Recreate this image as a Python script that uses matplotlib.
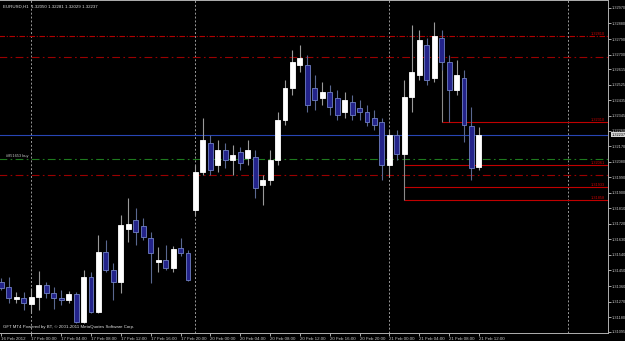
import matplotlib.pyplot as plt
import matplotlib.transforms as mtransforms
import pandas as pd

plt.rcParams['font.family'] = ['Liberation Sans', 'DejaVu Sans']

# hourly bars (broker skips the weekend, two Sunday bars before Monday)
times = (list(pd.date_range('2012-02-16 20:00', periods=4, freq='h'))
         + list(pd.date_range('2012-02-17 00:00', periods=22, freq='h'))
         + list(pd.date_range('2012-02-19 22:00', periods=2, freq='h'))
         + list(pd.date_range('2012-02-20 00:00', periods=24, freq='h'))
         + list(pd.date_range('2012-02-21 00:00', periods=13, freq='h')))

opens = [1.31383, 1.31354, 1.31285, 1.31291, 1.31256, 1.31296, 1.31366, 1.31320, 1.31291, 1.31279,
         1.31314, 1.31152, 1.31412, 1.31210, 1.31557, 1.31453, 1.31383, 1.31690, 1.31742, 1.31707,
         1.31638, 1.31499, 1.31511, 1.31464, 1.31580, 1.31551, 1.31800, 1.32020, 1.32188, 1.32061,
         1.32148, 1.32090, 1.32136, 1.32101, 1.32107, 1.31945, 1.31974, 1.32090, 1.32321, 1.32507,
         1.32640, 1.32640, 1.32507, 1.32449, 1.32483, 1.32449, 1.32368, 1.32425, 1.32391, 1.32368,
         1.32333, 1.32310, 1.32061, 1.32234, 1.32124, 1.32454, 1.32582, 1.32755, 1.32564, 1.32796,
         1.32657, 1.32495, 1.32564, 1.32286, 1.32050]
highs = [1.31406, 1.31412, 1.31325, 1.31325, 1.31348, 1.31447, 1.31383, 1.31354, 1.31337, 1.31331,
         1.31325, 1.31453, 1.31441, 1.31655, 1.31626, 1.31493, 1.31771, 1.31870, 1.31812, 1.31754,
         1.31673, 1.31586, 1.31597, 1.31592, 1.31638, 1.31569, 1.32061, 1.32333, 1.32234, 1.32205,
         1.32188, 1.32176, 1.32165, 1.32205, 1.32148, 1.32003, 1.32148, 1.32368, 1.32553, 1.32727,
         1.32755, 1.32698, 1.32582, 1.32541, 1.32524, 1.32495, 1.32483, 1.32466, 1.32437, 1.32408,
         1.32379, 1.32333, 1.32263, 1.32263, 1.32553, 1.32871, 1.32842, 1.32796, 1.32889, 1.32842,
         1.32698, 1.32669, 1.32611, 1.32396, 1.32281]
lows = [1.31337, 1.31262, 1.31262, 1.31221, 1.31204, 1.31221, 1.31291, 1.31227, 1.31250, 1.31262,
        1.31146, 1.31146, 1.31204, 1.31204, 1.31441, 1.31279, 1.31320, 1.31615, 1.31597, 1.31626,
        1.31377, 1.31441, 1.31453, 1.31441, 1.31534, 1.31389, 1.31771, 1.32003, 1.32003, 1.32020,
        1.32043, 1.32003, 1.32032, 1.32061, 1.31870, 1.31829, 1.31945, 1.32061, 1.32292, 1.32466,
        1.32599, 1.32368, 1.32379, 1.32408, 1.32350, 1.32321, 1.32333, 1.32321, 1.32321, 1.32286,
        1.32263, 1.31974, 1.31991, 1.32090, 1.32101, 1.32368, 1.32553, 1.32524, 1.32541, 1.32611,
        1.32310, 1.32466, 1.32194, 1.31974, 1.32029]
closes = [1.31348, 1.31291, 1.31296, 1.31262, 1.31296, 1.31366, 1.31320, 1.31291, 1.31279, 1.31314,
          1.31152, 1.31412, 1.31210, 1.31557, 1.31453, 1.31383, 1.31713, 1.31719, 1.31673, 1.31644,
          1.31551, 1.31511, 1.31464, 1.31574, 1.31551, 1.31395, 1.32020, 1.32205, 1.32032, 1.32148,
          1.32090, 1.32119, 1.32072, 1.32148, 1.31927, 1.31974, 1.32090, 1.32321, 1.32507, 1.32657,
          1.32680, 1.32408, 1.32437, 1.32483, 1.32396, 1.32350, 1.32437, 1.32350, 1.32368, 1.32310,
          1.32292, 1.32061, 1.32234, 1.32124, 1.32454, 1.32599, 1.32784, 1.32553, 1.32808, 1.32657,
          1.32495, 1.32582, 1.32292, 1.32043, 1.32237]

price_ticks = [1.32970, 1.32880, 1.32790, 1.32700, 1.32615, 1.32525, 1.32435, 1.32345, 1.32260,
               1.32170, 1.32080, 1.31990, 1.31900, 1.31810, 1.31720, 1.31630, 1.31540, 1.31450,
               1.31360, 1.31270, 1.31180, 1.31095]

bid = 1.32237
order_price = 1.32096
order_label = '#851653 buy'
full_red_levels = [1.32810, 1.32686, 1.32003]     # dash-dot lines across the chart
ray_levels = [1.32310, 1.32061, 1.31933, 1.31858]  # solid red rays
ray_start = [59, 54, 54, 54]
ray_labels = ['1.32310', '1.32061', '1.31933', '1.31858']
separators = [4, 26, 52, 76]

header = 'EURUSD,H1  1.32050 1.32281 1.32029 1.32237'
footer = 'GFT MT4 Powered by BT, \u00a9 2001-2011 MetaQuotes Software Corp.'

fig = plt.figure(figsize=(6.25, 3.41), dpi=100, facecolor='black')
ax = fig.add_axes([0, 8 / 341, 608 / 625, 333 / 341])
ax.set_facecolor('black')

xs = list(range(len(opens)))
x_right = 81.3

# day separators
for s in separators:
    ax.axvline(s, color='#9a9a9a', lw=0.7, ls=(0, (2, 2)), zorder=0.5)

# horizontal levels
ax.hlines(full_red_levels[0], -1, x_right, color='#b00000', lw=0.8, ls=(0, (5, 1.5, 1, 1.5)), zorder=1)
ax.hlines(full_red_levels[1], -1, x_right, color='#9a0000', lw=0.8, ls=(0, (7, 3, 1.5, 3)), zorder=1)
ax.hlines(full_red_levels[2], -1, x_right, color='#9a0000', lw=0.8, ls=(0, (7, 3, 1.5, 3)), zorder=1)
ax.text(80.9, full_red_levels[0], '1.32810', ha='right', va='bottom', color='#d00000', fontsize=2.8)
ax.hlines(bid, -1, x_right, color='#2846b4', lw=0.8, zorder=1)
ax.hlines(order_price, -1, x_right, color='#1e7a1e', lw=0.8, ls=(0, (7, 3, 1.5, 3)), zorder=1)
ax.text(0.6, order_price + 0.00004, order_label, ha='left', va='bottom', color='#c8c8c8', fontsize=2.8)
for lvl, s, lab in zip(ray_levels, ray_start, ray_labels):
    ax.hlines(lvl, s, x_right, color='#c00000', lw=0.8, zorder=1)
    ax.text(80.9, lvl, lab, ha='right', va='bottom', color='#d00000', fontsize=2.8)
ax.vlines(54, ray_levels[3], 1.32124, color='#8a8a8a', lw=0.8, zorder=1)
ax.vlines(59, ray_levels[0], 1.32669, color='#8a8a8a', lw=0.8, zorder=1)

# candles
bull = [c >= o for o, c in zip(opens, closes)]
wick_cols = ['#9a9a9a' if b else '#5a6890' for b in bull]
ax.vlines(xs, lows, highs, colors=wick_cols, lw=0.8, zorder=3)
bottoms = [min(o, c) for o, c in zip(opens, closes)]
heights = [max(abs(c - o), 0.000015) for o, c in zip(opens, closes)]
ax.bar(xs, heights, bottom=bottoms, width=0.66,
       color=['#ffffff' if b else '#23238a' for b in bull],
       edgecolor=['#ffffff' if b else '#7080c4' for b in bull],
       linewidth=0.6, zorder=4)

ax.set_xlim(-0.2, x_right)
ax.set_ylim(1.31088, 1.33016)

# time axis
tick_idx = list(range(0, len(times), 4))
tick_lab = ['16 Feb 2012'] + [times[i].strftime('%d %b %H:%M') for i in tick_idx[1:]]
ax.set_xticks(tick_idx)
ax.set_xticklabels(tick_lab, ha='left')
ax.tick_params(axis='x', length=2, pad=0.8, labelsize=3.2, colors='#c8c8c8', width=0.6)

# price axis
ax.yaxis.tick_right()
ax.set_yticks(price_ticks)
ax.set_yticklabels(['%.5f' % p for p in price_ticks])
ax.tick_params(axis='y', length=2, pad=1, labelsize=2.8, colors='#c8c8c8', width=0.6)

trans = mtransforms.blended_transform_factory(ax.transAxes, ax.transData)
ax.text(1.006, bid, '%.5f' % bid, transform=trans, ha='left', va='center', fontsize=2.8,
        color='black', bbox=dict(boxstyle='square,pad=0.2', fc='#d8d8d8', ec='none'))

for side in ['top', 'left', 'right', 'bottom']:
    ax.spines[side].set_color('#b0b0b0')
    ax.spines[side].set_linewidth(0.7)
ax.spines['left'].set_visible(False)

ax.text(0.005, 0.979, header, transform=ax.transAxes, ha='left', va='center', color='#e0e0e0', fontsize=3.2)
ax.text(0.005, 0.018, footer, transform=ax.transAxes, ha='left', va='center', color='#e0e0e0', fontsize=3.2)

fig.savefig('out.png', dpi=100, facecolor='black')
